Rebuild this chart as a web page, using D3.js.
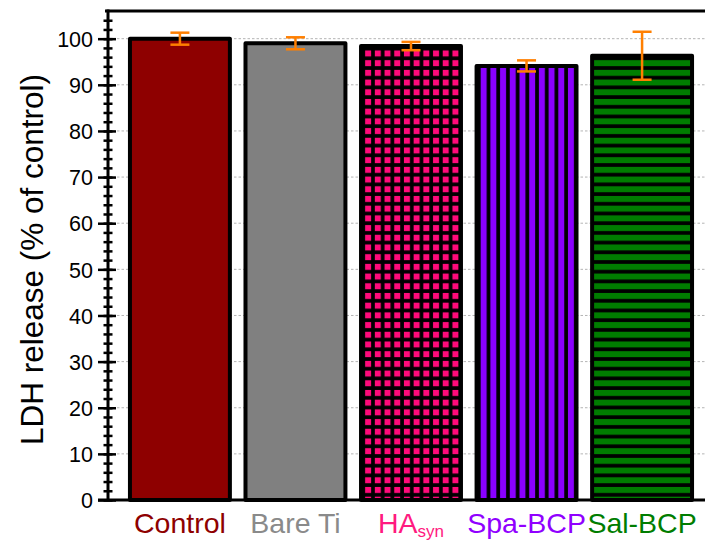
<!DOCTYPE html>
<html>
<head>
<meta charset="utf-8">
<script src="https://cdn.jsdelivr.net/npm/d3@7"></script>
<style>
  html, body { margin: 0; padding: 0; background: #fff; }
  svg { display: block; font-family: Arial, "Liberation Sans", sans-serif; }
</style>
</head>
<body>
<svg id="chart" width="705" height="542"></svg>
<script>
// LDH release by substrate, mean ± error
const categories = ["Control", "Bare Ti", "HA", "Spa-BCP", "Sal-BCP"];
const labelMain  = ["Control", "Bare Ti", "HA", "Spa-BCP", "Sal-BCP"];
const labelSub   = ["", "", "syn", "", ""];
const values     = [100.0, 99.0, 98.4, 94.1, 96.3];
const errors     = [1.3, 1.3, 0.9, 1.2, 5.2];
const fillColors = ["#8e0000", "#808080", "#ff0a7a", "#8a00ff", "#007d00"];
const labelColors = ["#8e0000", "#8a8a8a", "#ff1a80", "#9000ff", "#007d00"];
const fillKinds  = ["solid", "solid", "grid", "vstripe", "hstripe"];
const yTicks     = [0, 10, 20, 30, 40, 50, 60, 70, 80, 90, 100];
const yMinorTicks = d3.range(0, 106, 2);

const svg = d3.select("#chart");
const plotLeft = 108, plotRight = 714, plotTop = 11, plotBottom = 500;

const x = d3.scaleBand().domain(categories).range([plotLeft, plotRight])
  .paddingInner(0.135).paddingOuter(0.19);
const y = d3.scaleLinear().domain([0, 106]).range([plotBottom, plotTop]);

// fill patterns
const defs = svg.append("defs");
const P = 9.7;
categories.forEach((c, i) => {
  const kind = fillKinds[i];
  if (kind === "solid") return;
  const bx = x(c), by = y(values[i]);
  const pat = defs.append("pattern")
    .attr("id", "pat" + i)
    .attr("patternUnits", "userSpaceOnUse")
    .attr("width", P).attr("height", P)
    .attr("x", bx + 2.2).attr("y", by + 2.5);
  pat.append("rect").attr("width", P).attr("height", P).attr("fill", "#000");
  if (kind === "grid") {
    pat.append("rect").attr("x", 1.9).attr("y", 1.9).attr("width", 6).attr("height", 6)
      .attr("fill", fillColors[i]);
  } else if (kind === "vstripe") {
    pat.append("rect").attr("x", 1.9).attr("y", 0).attr("width", 6).attr("height", P)
      .attr("fill", fillColors[i]);
  } else if (kind === "hstripe") {
    pat.append("rect").attr("x", 0).attr("y", 1.9).attr("width", P).attr("height", 6)
      .attr("fill", fillColors[i]);
  }
});

// dotted grid
svg.append("g").selectAll("line").data(yTicks.filter(d => d > 0)).join("line")
  .attr("x1", plotLeft).attr("x2", 705)
  .attr("y1", d => y(d)).attr("y2", d => y(d))
  .attr("stroke", "#b4b4b4").attr("stroke-width", 1)
  .attr("stroke-dasharray", "2.5,2");

// bars
svg.append("g").selectAll("rect").data(categories).join("rect")
  .attr("x", d => x(d))
  .attr("y", (d, i) => y(values[i]))
  .attr("width", x.bandwidth())
  .attr("height", (d, i) => y(0) - y(values[i]))
  .attr("fill", (d, i) => fillKinds[i] === "solid" ? fillColors[i] : `url(#pat${i})`)
  .attr("stroke", "#000").attr("stroke-width", 4)
  .attr("stroke-linejoin", "round");

// error bars
const eb = svg.append("g").attr("stroke", "#ff7f00").attr("stroke-width", 2.5);
categories.forEach((c, i) => {
  const cx = x(c) + x.bandwidth() / 2;
  const hi = y(values[i] + errors[i]), lo = y(values[i] - errors[i]);
  eb.append("line").attr("x1", cx).attr("x2", cx).attr("y1", hi).attr("y2", lo);
  eb.append("line").attr("x1", cx - 9.5).attr("x2", cx + 9.5).attr("y1", hi).attr("y2", hi);
  eb.append("line").attr("x1", cx - 9.5).attr("x2", cx + 9.5).attr("y1", lo).attr("y2", lo);
});

// frame: top line, bottom axis
svg.append("line").attr("x1", plotLeft - 3).attr("x2", 705).attr("y1", plotTop).attr("y2", plotTop)
  .attr("stroke", "#000").attr("stroke-width", 3);
svg.append("line").attr("x1", 98).attr("x2", 705).attr("y1", plotBottom).attr("y2", plotBottom)
  .attr("stroke", "#000").attr("stroke-width", 3);

// y axis: minor ticks crossing the spine
const yAxisMinor = d3.axisLeft(y).tickValues(yMinorTicks).tickSize(9).tickFormat("");
const gMinor = svg.append("g").attr("transform", `translate(${plotLeft + 4.5},0)`).call(yAxisMinor);
gMinor.select(".domain").remove();
gMinor.selectAll(".tick line").attr("stroke", "#000").attr("stroke-width", 2.5);

// y axis: major ticks and labels
const yAxis = d3.axisLeft(y).tickValues(yTicks).tickSize(18).tickPadding(5);
const gMajor = svg.append("g").attr("transform", `translate(${plotLeft + 8},0)`).call(yAxis);
gMajor.select(".domain").remove();
gMajor.selectAll(".tick line").attr("stroke", "#000").attr("stroke-width", 2.5);
gMajor.selectAll(".tick text").attr("fill", "#000").attr("font-size", 21.5)
  .attr("font-family", "Arial, 'Liberation Sans', sans-serif")
  .attr("x", -23).attr("dy", "0.36em");

svg.append("line").attr("x1", plotLeft).attr("x2", plotLeft).attr("y1", plotTop - 1.5).attr("y2", plotBottom)
  .attr("stroke", "#000").attr("stroke-width", 3);

// y title
svg.append("text")
  .attr("transform", `translate(43,${(plotTop + plotBottom) / 2 + 4}) rotate(-90)`)
  .attr("text-anchor", "middle")
  .attr("font-size", 31.5)
  .attr("fill", "#000")
  .text("LDH release (% of control)");

// category labels
const lab = svg.append("g").attr("font-size", 28.5).attr("text-anchor", "middle");
categories.forEach((c, i) => {
  const cx = x(c) + x.bandwidth() / 2;
  const t = lab.append("text").attr("x", cx).attr("y", 533).attr("fill", labelColors[i]);
  t.append("tspan").text(labelMain[i]);
  if (labelSub[i]) {
    t.append("tspan").attr("font-size", 17).attr("dy", 4).text(labelSub[i]);
  }
});
</script>
</body>
</html>
